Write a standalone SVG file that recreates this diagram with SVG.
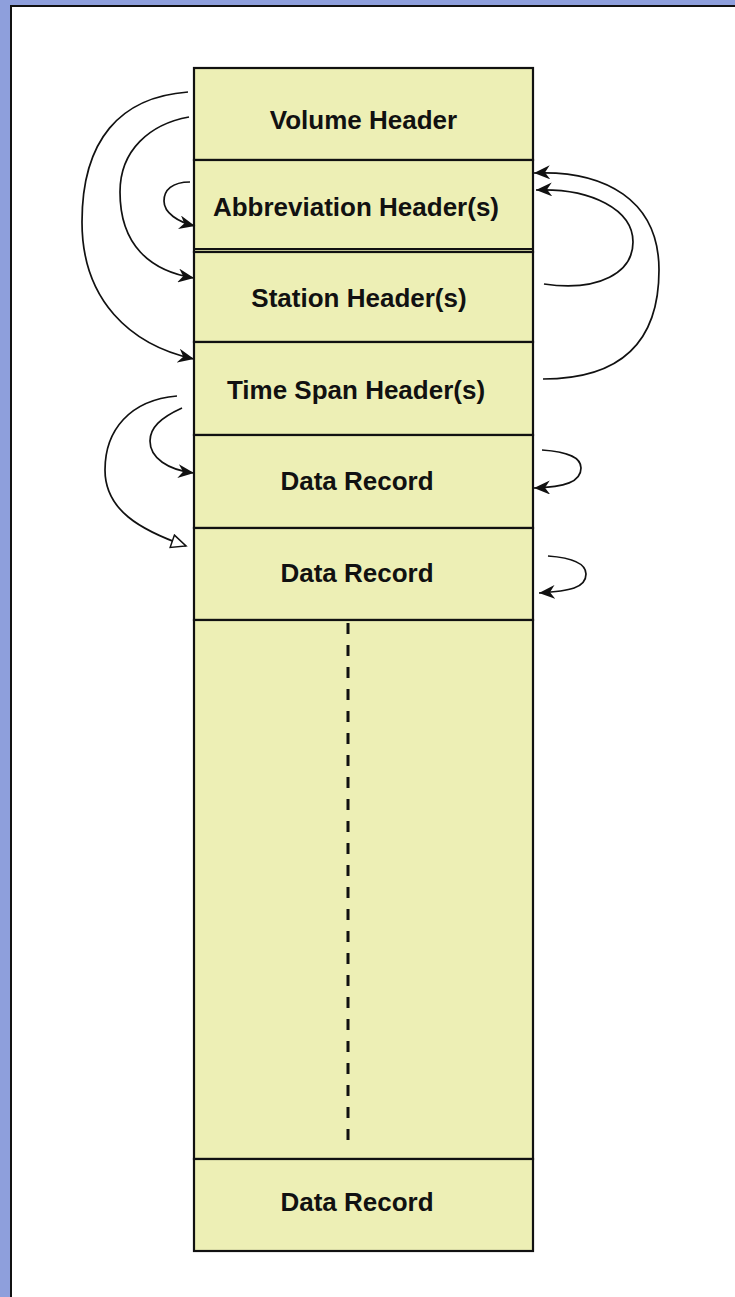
<svg xmlns="http://www.w3.org/2000/svg" width="735" height="1297" viewBox="0 0 735 1297">
  <style>
    .block { fill: #edefb5; stroke: #111; stroke-width: 2.2; }
    .sep { stroke: #111; stroke-width: 2; fill: none; }
    .label { font-family: "Liberation Sans", Arial, sans-serif; font-weight: bold; font-size: 26px; fill: #111; text-anchor: middle; }
    .link { fill: none; stroke: #111; stroke-width: 1.7; }
  </style>
  <defs>
    <marker id="solid" markerUnits="userSpaceOnUse" markerWidth="17" markerHeight="14" refX="16" refY="7" orient="auto" viewBox="0 0 17 14">
      <path d="M0,0 L16,7 L0,14 L5,7 z" fill="#111"/>
    </marker>
    <marker id="hollow" markerUnits="userSpaceOnUse" markerWidth="18" markerHeight="16" refX="16" refY="8" orient="auto" viewBox="0 0 18 16">
      <path d="M1.5,1.5 L16,8 L1.5,14.5 z" fill="#fff" stroke="#111" stroke-width="1.5"/>
    </marker>
  </defs>

  <!-- page frame -->
  <rect x="0" y="0" width="735" height="1297" fill="#8e9fdc"/>
  <rect x="11" y="6" width="724" height="1291" fill="#fff"/>
  <path d="M11,1297 L11,6 L735,6" fill="none" stroke="#111" stroke-width="2"/>

  <!-- file layout blocks -->
  <g id="volume-header">
    <rect class="block" x="194" y="68" width="339" height="92"/>
    <text class="label" x="363.5" y="129">Volume Header</text>
  </g>
  <g id="abbreviation-headers">
    <rect class="block" x="194" y="160" width="339" height="92"/>
    <line class="sep" x1="194" y1="249" x2="533" y2="249"/>
    <text class="label" x="356" y="216">Abbreviation Header(s)</text>
  </g>
  <g id="station-headers">
    <rect class="block" x="194" y="252" width="339" height="90"/>
    <text class="label" x="359" y="307">Station Header(s)</text>
  </g>
  <g id="time-span-headers">
    <rect class="block" x="194" y="342" width="339" height="93"/>
    <text class="label" x="356" y="399">Time Span Header(s)</text>
  </g>
  <g id="data-record-1">
    <rect class="block" x="194" y="435" width="339" height="93"/>
    <text class="label" x="357" y="490">Data Record</text>
  </g>
  <g id="data-record-2">
    <rect class="block" x="194" y="528" width="339" height="92"/>
    <text class="label" x="357" y="582">Data Record</text>
  </g>
  <g id="continuation">
    <rect class="block" x="194" y="620" width="339" height="539"/>
    <line x1="348" y1="623" x2="348" y2="1150" stroke="#111" stroke-width="3" stroke-dasharray="11 11"/>
  </g>
  <g id="data-record-n">
    <rect class="block" x="194" y="1159" width="339" height="92"/>
    <text class="label" x="357" y="1211">Data Record</text>
  </g>

  <!-- pointers between blocks -->
  <g id="connectors">
    <path class="link" marker-end="url(#solid)" d="M188,92 C120,97 82,140 82,222 C82,300 130,345 194,359"/>
    <path class="link" marker-end="url(#solid)" d="M189,117 C150,124 120,150 120,192 C120,245 150,271 194,278"/>
    <path class="link" marker-end="url(#solid)" d="M190,182 C172,182 164,190 164,201 C164,213 178,222 195,226"/>
    <path class="link" marker-end="url(#solid)" d="M543,379 C612,379 659,350 659,270 C659,200 605,170 534,173"/>
    <path class="link" marker-end="url(#solid)" d="M544,284 C600,292 633,272 633,242 C633,210 592,188 536,190"/>
    <path class="link" marker-end="url(#hollow)" d="M177,396 C130,400 105,430 105,470 C105,510 140,530 186,546"/>
    <path class="link" marker-end="url(#solid)" d="M182,408 C160,418 150,428 150,441 C150,458 168,470 194,473"/>
    <path class="link" marker-end="url(#solid)" d="M542,450 C570,452 581,458 581,468 C581,482 565,487 534,488"/>
    <path class="link" marker-end="url(#solid)" d="M548,556 C575,558 586,564 586,574 C586,588 570,591 539,593"/>
  </g>
</svg>
